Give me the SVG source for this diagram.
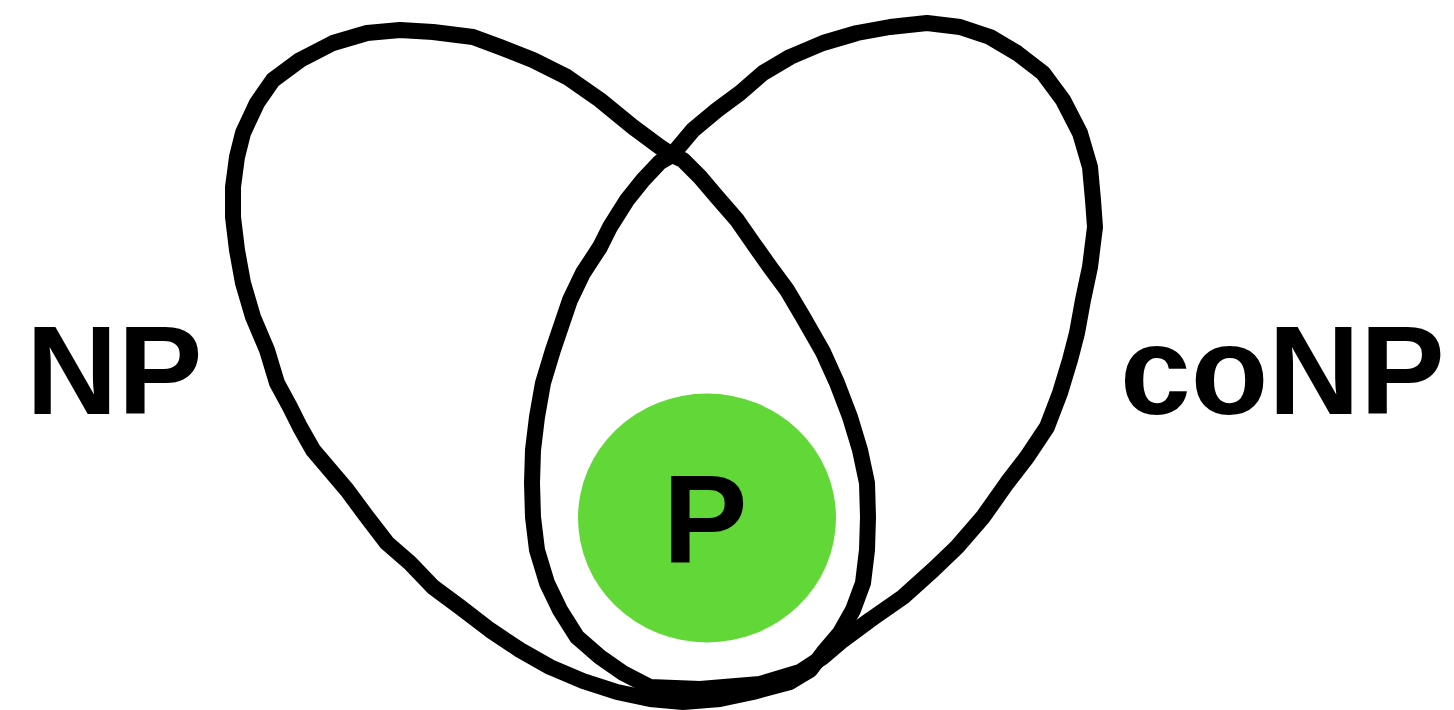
<svg xmlns="http://www.w3.org/2000/svg" width="1454" height="710" viewBox="0 0 1454 710">
<style>
.loop{fill:none;stroke:#000;stroke-width:16;stroke-linejoin:round;stroke-linecap:round}
.lbl{font-family:"Liberation Sans",Arial,sans-serif;font-weight:bold;font-size:127px;fill:#000}
</style>
<rect width="1454" height="710" fill="#fff"/>
<g id="np-set">
<path class="loop" d="M672,155 L660,147 L633,127 L600,100 L567,77 L533,60 L500,47 L473,37 L433,32 L400,30 L367,33 L333,43 L300,60 L273,80 L257,103 L243,133 L237,157 L233,187 L233,217 L237,250 L243,283 L253,317 L267,350 L277,383 L290,407 L300,427 L313,450 L330,470 L347,490 L367,517 L387,543 L410,563 L433,587 L460,607 L490,630 L520,650 L550,667 L583,681 L617,692 L650,699 L683,702 L720,699 L753,692 L790,682 L810,670 L823,653 L840,633 L853,610 L863,583 L867,550 L868,517 L867,483 L860,450 L850,417 L837,383 L823,352 L803,317 L787,290 L770,267 L753,243 L737,220 L717,197 L700,177 L683,160 Z"/>
<text class="lbl" x="26" y="414">NP</text>
</g>
<g id="conp-set">
<path class="loop" d="M672,155 L693,130 L717,110 L740,93 L763,73 L790,57 L823,43 L857,33 L890,27 L927,23 L960,27 L990,37 L1017,53 L1043,73 L1063,100 L1080,133 L1090,167 L1093,200 L1095,227 L1090,267 L1083,300 L1077,333 L1070,360 L1060,393 L1047,427 L1027,457 L1007,483 L983,517 L957,547 L933,570 L903,597 L870,620 L843,640 L823,657 L800,672 L760,684 L700,689 L650,687 L623,673 L600,657 L577,637 L560,610 L547,583 L537,550 L533,517 L532,483 L533,450 L537,417 L543,383 L553,350 L570,300 L583,273 L600,247 L610,227 L627,200 L643,180 L660,162 Z"/>
<text class="lbl" x="1120" y="414">coNP</text>
</g>
<g id="p-set">
<ellipse cx="707" cy="518" rx="129" ry="124.5" fill="#62d838"/>
<text class="lbl" x="705" y="563" text-anchor="middle">P</text>
</g>
<g id="connectors"></g>
</svg>
